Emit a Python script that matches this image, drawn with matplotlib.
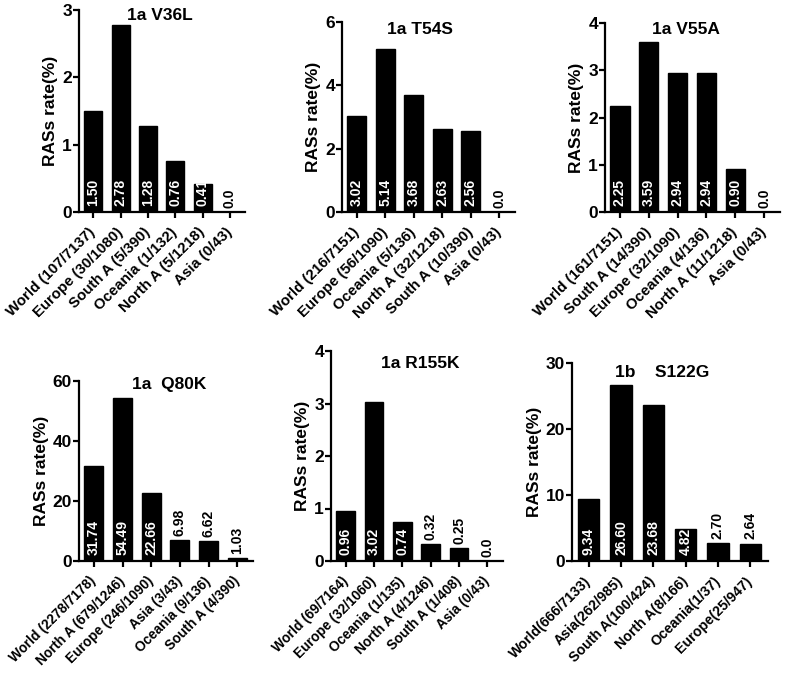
import matplotlib
matplotlib.use("Agg")
import matplotlib.pyplot as plt
import matplotlib.transforms as mtransforms

plt.rcParams['font.family'] = ['Liberation Sans', 'DejaVu Sans']
plt.rcParams['font.weight'] = 'bold'

# RAS rates (%) per region, one panel each
v36l_labels = ['World (107/7137)', 'Europe (30/1080)', 'South A (5/390)',
               'Oceania (1/132)', 'North A (5/1218)', 'Asia (0/43)']
v36l_values = [1.50, 2.78, 1.28, 0.76, 0.41, 0.0]

t54s_labels = ['World (216/7151)', 'Europe (56/1090)', 'Oceania (5/136)',
               'North A (32/1218)', 'South A (10/390)', 'Asia (0/43)']
t54s_values = [3.02, 5.14, 3.68, 2.63, 2.56, 0.0]

v55a_labels = ['World (161/7151)', 'South A (14/390)', 'Europe (32/1090)',
               'Oceania (4/136)', 'North A (11/1218)', 'Asia (0/43)']
v55a_values = [2.25, 3.59, 2.94, 2.94, 0.90, 0.0]

q80k_labels = ['World (2278/7178)', 'North A (679/1246)', 'Europe (246/1090)',
               'Asia (3/43)', 'Oceania (9/136)', 'South A (4/390)']
q80k_values = [31.74, 54.49, 22.66, 6.98, 6.62, 1.03]

r155k_labels = ['World (69/7164)', 'Europe (32/1060)', 'Oceania (1/135)',
                'North A (4/1246)', 'South A (1/408)', 'Asia (0/43)']
r155k_values = [0.96, 3.02, 0.74, 0.32, 0.25, 0.0]

s122g_labels = ['World(666/7133)', 'Asia(262/985)', 'South A(100/424)',
                'North A(8/166)', 'Oceania(1/37)', 'Europe(25/947)']
s122g_values = [9.34, 26.60, 23.68, 4.82, 2.70, 2.64]

titles = ['1a V36L', '1a T54S', '1a V55A', '1a  Q80K', '1a R155K', '1b    S122G']
yticks = [[0, 1, 2, 3], [0, 2, 4, 6], [0, 1, 2, 3, 4],
          [0, 20, 40, 60], [0, 1, 2, 3, 4], [0, 10, 20, 30]]

panels = [
    (v36l_labels, v36l_values),
    (t54s_labels, t54s_values),
    (v55a_labels, v55a_values),
    (q80k_labels, q80k_values),
    (r155k_labels, r155k_values),
    (s122g_labels, s122g_values),
]

W, H = 787, 674
# axes boxes in pixels: left, top, right, bottom
boxes = [(79, 10, 245, 212), (342, 22, 515, 212), (605, 23, 780, 212),
         (79, 381, 253, 561), (331, 351, 503, 561), (572, 363, 768, 561)]
title_pos = [(0.49, 0.975), (0.45, 0.958), (0.46, 0.963),
             (0.52, 0.98), (0.52, 0.94), (0.46, 0.95)]
tick_size = [10.8, 10.8, 10.8, 9.8, 9.8, 10.2]

fig = plt.figure(figsize=(W / 100, H / 100), dpi=100)
shift = mtransforms.ScaledTranslation(0.045, -0.01, fig.dpi_scale_trans)

for i, (labels, values) in enumerate(panels):
    l, t, r, b = boxes[i]
    ax = fig.add_axes([l / W, 1 - b / H, (r - l) / W, (b - t) / H])
    x = list(range(len(values)))
    ax.bar(x, values, width=0.66, color='black', edgecolor='black')
    ymax = yticks[i][-1]
    ax.set_ylim(0, ymax)
    ax.set_xlim(-0.52, 5.55)
    ax.set_yticks(yticks[i])
    ax.set_xticks(x)
    ax.set_xticklabels(labels, rotation=45, ha='right', va='center',
                       rotation_mode='anchor', fontsize=tick_size[i], fontweight='bold')
    for lab in ax.get_xticklabels():
        lab.set_transform(lab.get_transform() + shift)
    for lab in ax.get_yticklabels():
        lab.set_fontsize(12.5)
        lab.set_fontweight('bold')
    ax.set_ylabel('RASs rate(%)', fontsize=12.5, fontweight='bold', labelpad=3)
    ax.spines['top'].set_visible(False)
    ax.spines['right'].set_visible(False)
    ax.spines['left'].set_linewidth(1.6)
    ax.spines['bottom'].set_linewidth(1.6)
    ax.tick_params(axis='both', direction='out', length=4, width=1.6, pad=1)
    ax.tick_params(axis='x', pad=9)

    for xi, v in zip(x, values):
        txt = '0.0' if v == 0 else f'{v:.2f}'
        if v / ymax > 0.13:
            ax.annotate(txt, (xi, 0), xytext=(0, 4), textcoords='offset points',
                        rotation=90, ha='center', va='bottom', color='white',
                        fontsize=10, fontweight='bold')
        else:
            ax.annotate(txt, (xi, v), xytext=(0, 3), textcoords='offset points',
                        rotation=90, ha='center', va='bottom', color='black',
                        fontsize=10, fontweight='bold')

    ax.text(title_pos[i][0], title_pos[i][1], titles[i], transform=ax.transAxes,
            ha='center', va='center', fontsize=12.5, fontweight='bold')

fig.savefig('out.png', dpi=100)
